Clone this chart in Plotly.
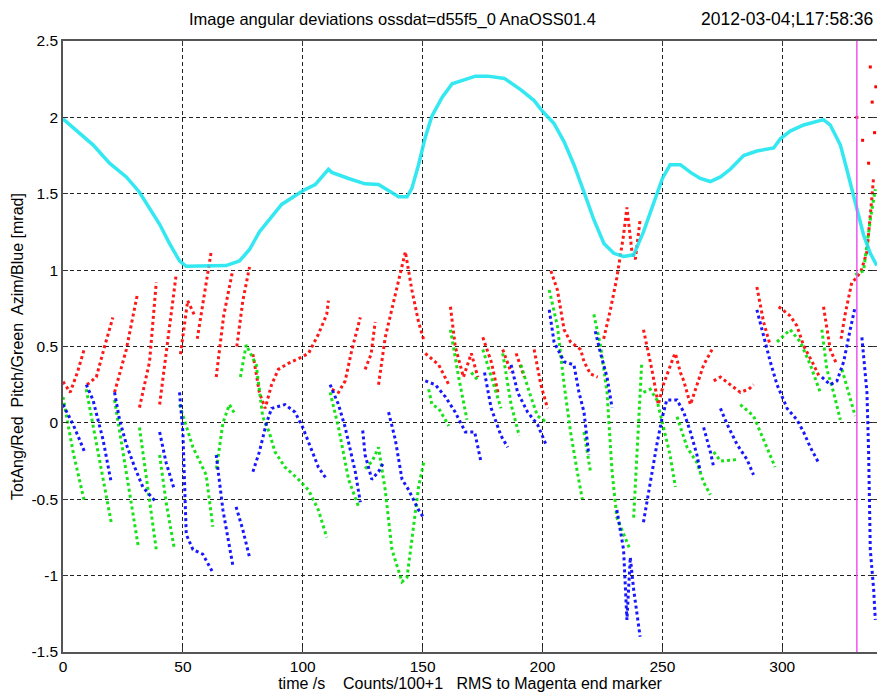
import plotly.graph_objects as go

# ---------------- data ----------------
cyan_x = [0, 6.9, 12.5, 19.4, 26.4, 31.9, 36.1, 40.3, 44.4, 48.6, 51.4, 57, 62.5, 68, 73.6, 77.8, 81.9, 86.1,
          91.2, 100, 105.2, 110.7, 112.1, 119.1, 126, 131.6, 135.8, 140, 143.5, 145.5, 148.3, 151.1, 153.9,
          158.1, 162.3, 167.8, 172, 177.2, 184.1, 191, 196.5, 200, 204.8, 209, 213.1, 217.3, 221.4, 225.6,
          229.7, 233.8, 238, 242.1, 246.3, 250, 253.2, 257.5, 261.7, 265.8, 270, 274.2, 278.3, 283.9, 289.4,
          296.4, 299.2, 303.3, 308.9, 314.4, 317.2, 320, 324.2, 326.9, 329.7, 331.8, 333.9, 336.7, 339.4]
cyan_y = [1.99, 1.895, 1.82, 1.70, 1.61, 1.51, 1.41, 1.30, 1.175, 1.06, 1.025, 1.025, 1.025, 1.03, 1.06, 1.135,
          1.25, 1.33, 1.43, 1.52, 1.56, 1.66, 1.64, 1.60, 1.565, 1.56, 1.52, 1.48, 1.48, 1.535, 1.69, 1.87,
          2.01, 2.13, 2.22, 2.25, 2.27, 2.27, 2.255, 2.18, 2.11, 2.04, 1.96, 1.84, 1.69, 1.51, 1.33, 1.175,
          1.11, 1.09, 1.10, 1.25, 1.43, 1.60, 1.69, 1.69, 1.64, 1.60, 1.58, 1.61, 1.66, 1.75, 1.78, 1.80,
          1.86, 1.91, 1.95, 1.97, 1.985, 1.95, 1.82, 1.66, 1.48, 1.355, 1.23, 1.11, 1.03]

red_x = [0, 3, 6, 9, None, 10, 13.9, 17, 20.8, None, 21.5, 26.4, 31, None, 31.9, 36.1, 38.9, None,
         40.3, 43.5, 47.2, None, 49, 52, 55, None, 56, 59, 61.8, None, 63.9, 67, 70.8, None,
         72.5, 75, 77.8, None, 79.2, 81.9, 84.3, 87, 89.8, 94, 98.2, 102.4, 106.5, 110, 110.7, None,
         112.1, 114.9, 117.7, 120.5, 124, None, 126, 128.5, 130.2, None, 131.6, 134.4, 138.6, 142.8,
         145.5, 148.3, 150.4, None, 151.1, 156.7, 160.9, None, 161.6, 163.6, 167, 170.3, 173, None,
         175.1, 178.6, 181.4, None, 183.4, 186.9, None, 189, 192.4, None, 196.5, 199.3, 202.1, None,
         203.5, 206.2, 209, 211.7, 215.9, 217.3, 220, 223, None, 225.5, 228.3, 231, 233.8, 235.2,
         237.3, 238.7, 240.7, None, 242.1, 245.6, 248.3, 250.4, 254.6, 255.4, 257.5, 258.9, 261.7,
         264.4, 267.2, 270.7, None, 271.4, 274.2, 278.3, 282.5, 286, 288, None, 289.4, 292.2, 295,
         None, 298.5, 303.3, 306.1, 308.9, 313.1, 315.5, None, 317.2, 320, 322.8, None, 324.5,
         326.2, 329, 331, 333, 335.3, 337.4, 338.1]
red_y = [0.27, 0.20, 0.33, 0.49, None, 0.25, 0.30, 0.48, 0.69, None, 0.20, 0.48, 0.84, None, 0.10, 0.40, 0.92, None,
         0.12, 0.50, 0.97, None, 0.45, 0.80, 0.70, None, 0.55, 0.85, 1.12, None, 0.30, 0.70, 1.00, None,
         0.50, 0.80, 1.02, None, 0.45, 0.20, 0.095, 0.25, 0.35, 0.39, 0.42, 0.455, 0.58, 0.71, 0.80, None,
         0.22, 0.20, 0.275, 0.48, 0.69, None, 0.35, 0.45, 0.66, None, 0.25, 0.56, 0.84, 1.12,
         0.87, 0.66, 0.545, None, 0.455, 0.38, 0.25, None, 0.76, 0.50, 0.30, 0.455, 0.30, None,
         0.56, 0.40, 0.20, None, 0.48, 0.33, None, 0.455, 0.30, None, 0.48, 0.25, 0.095, None,
         0.995, 0.87, 0.61, 0.53, 0.48, 0.40, 0.32, 0.30, None, 0.55, 0.74, 0.95, 1.23, 1.41,
         1.12, 1.07, 1.33, None, 0.61, 0.35, 0.12, 0.25, 0.43, 0.455, 0.33, 0.275, 0.12,
         0.25, 0.38, 0.48, None, 0.275, 0.30, 0.25, 0.20, 0.22, 0.25, None, 0.89, 0.66, 0.505,
         None, 0.76, 0.70, 0.635, 0.505, 0.38, 0.30, None, 0.76, 0.48, 0.38, None, 0.55,
         0.71, 0.92, 0.95, 1.00, 1.12, 1.48, 1.61]

# sparse red points after the end marker
red_sparse_x = [331.1, 333.5, 336.7, 337.5, 338.5, 339.0, 336.0]
red_sparse_y = [2.00, 1.85, 2.33, 2.10, 1.90, 2.20, 1.70]

green_x = [0, 4.2, 9, None, 9.7, 13.9, 20.1, None, 21.5, 26.4, 31.3, None, 31.9, 34.7, 38.9, None,
           40.3, 43, 46.5, None, 48.6, 54.2, 59.7, 62.5, None, 64, 66.7, 69.4, 72, None, 74, 76.4,
           80.6, 83.3, 86, 88.4, 92.6, 98.2, 102.4, 106.5, 110, None, 111.4, 114.9, 119.1, 123.3, None,
           126, 129, 131.6, 134.4, 137.2, 141.4, 143.5, 145.5, 148.3, 150.4, None, 152.5, 153.9, 156.7,
           160.9, None, 161.6, 165, 168.5, None, 170.3, 173, None, 175.1, 178.6, 182.7, None, 183.4,
           186.9, 190.3, None, 191, 194.5, 197.9, 202.1, None, 202.8, 206.2, 209, 211.7, 214.5, 216.6,
           None, 217.3, 220, None, 221.4, 224.2, 226.9, 229, 231, 233.8, 236.5, None, 238, 239.4, 241.4,
           None, 242.1, 244.9, 247.7, 250.4, 253.2, 255.4, None, 256.1, 260.3, 264.4, 267.2, 270, None,
           271.4, 274.2, 281.1, None, 282.5, 288, 292.2, 297, None, 297.8, 303.3, 307.5, 311.7, 315.8,
           None, 316.5, 318.6, 321.4, 324.2, None, 324.9, 327.6, 330.4, None, 330.4, 333.9, 336.7, 338.8]
green_y = [0.17, -0.19, -0.52, None, 0.22, -0.14, -0.65, None, 0.15, -0.34, -0.80, None, -0.03, -0.34, -0.83, None,
           -0.21, -0.52, -0.83, None, 0.12, -0.16, -0.34, -0.68, None, -0.30, 0.0, 0.12, 0.05, None, 0.30, 0.51,
           0.38, 0.04, -0.06, -0.19, -0.29, -0.37, -0.44, -0.57, -0.75, None, 0.20, -0.03, -0.37, -0.55, None,
           -0.30, -0.25, -0.16, -0.44, -0.83, -1.04, -1.01, -0.75, -0.42, -0.26, None, 0.22, 0.12, 0.095,
           -0.02, None, 0.61, 0.30, 0.02, None, 0.33, 0.28, None, 0.48, 0.30, 0.095, None, 0.455,
           0.12, -0.085, None, 0.38, 0.20, 0.045, 0.0, None, 0.87, 0.635, 0.25, -0.06, -0.32, -0.50,
           None, -0.06, -0.32, None, 0.71, 0.505, 0.20, -0.32, -0.62, -0.73, -0.83, None, -0.62, -0.19, 0.40,
           None, 0.20, 0.22, 0.15, -0.03, -0.21, -0.42, None, 0.04, -0.16, -0.26, -0.39, -0.47, None,
           -0.19, -0.25, -0.24, None, 0.12, 0.045, -0.11, -0.29, None, 0.53, 0.61, 0.53, 0.38, 0.20,
           None, 0.61, 0.35, 0.20, 0.02, None, 0.35, 0.20, 0.045, None, 0.97, 0.995, 1.33, 1.53]

blue_x = [0, 4.2, 6.9, 9, None, 9.7, 12.5, 16.7, 20.1, None, 21.5, 23.6, 26.4, 29.9, 33.3, 38.9, None,
          40.3, 43, 46.5, None, 48.6, 50, 51.4, 54.2, 58.3, 62.5, None, 63.9, 66.7, 70.8, None, 72.2, 75,
          77.8, None, 79.2, 81.9, 84.7, 87, 92.6, 96.8, 100, 103.8, 106.5, 110, None, 111.4, 114.9, 117.7,
          121.9, 124, None, 125, 126, 128.8, 131.6, 133.7, None, 135.8, 138.6, 141.4, 144.2, 148.3, 150.4,
          None, 151.1, 155.3, 159.5, 163.6, 167.8, 171.7, 174.4, None, 175.8, 178.6, 182.7, 185.5, None,
          186.9, 189.6, 193.8, 197.9, 201.4, None, 202.8, 204.8, 209, 213.1, 215.2, 217.3, 219.3, None,
          222, 224.2, 226.9, 229, None, 231, 233.8, 235.2, 236.6, 238, 240, 240.7, None, 242.1, 244.9,
          247.7, 249.7, 251.8, 256.1, 258.9, 261.7, 264.4, 265.8, None, 267.2, 270, 271.4, None, 274.2,
          277, 281.1, 285.3, 288, None, 289.4, 292.2, 295, 297.8, 302, 306.1, 308.9, 311.7, 315.1, None,
          316.5, 320, 322.8, 325.6, 328.3, 330.4, None, 333.2, 335.3, 336, 336.7, 338.1, 338.8]
blue_y = [0.12, -0.01, -0.11, -0.19, None, 0.25, 0.15, -0.11, -0.39, None, 0.20, 0.02, -0.14, -0.29, -0.42, -0.52, None,
          -0.06, -0.26, -0.44, None, 0.20, -0.06, -0.73, -0.83, -0.86, -0.98, None, -0.21, -0.57, -0.93, None, -0.55, -0.70,
          -0.88, None, -0.32, -0.19, -0.01, 0.095, 0.12, 0.07, -0.03, -0.19, -0.29, -0.37, None, 0.25, 0.12, -0.03,
          -0.32, -0.52, None, -0.05, -0.21, -0.37, -0.32, -0.26, None, 0.07, -0.11, -0.37, -0.44, -0.57, -0.62,
          None, 0.275, 0.25, 0.17, 0.07, -0.06, -0.06, -0.26, None, 0.33, 0.095, -0.085, -0.16, None,
          0.38, 0.20, 0.07, -0.01, -0.14, None, 0.74, 0.53, 0.40, 0.38, 0.20, 0.07, -0.21, None,
          0.60, 0.455, 0.30, 0.10, None, -0.57, -0.83, -1.29, -0.88, -1.09, -1.34, -1.40, None, -0.65, -0.39,
          -0.14, 0.02, 0.15, 0.15, 0.07, -0.06, -0.21, -0.32, None, -0.03, -0.19, -0.29, None, 0.095,
          -0.01, -0.14, -0.24, -0.34, None, 0.74, 0.56, 0.40, 0.25, 0.095, 0.02, -0.06, -0.16, -0.26, None,
          0.30, 0.25, 0.275, 0.40, 0.61, 0.76, None, 0.56, 0.20, -0.19, -0.83, -1.09, -1.29]

marker_time = [331.1]

x_ticks = [0, 50, 100, 150, 200, 250, 300]
y_ticks = [-1.5, -1, -0.5, 0, 0.5, 1, 1.5, 2, 2.5]
y_tick_text = ["-1.5", "-1", "-0.5", "0", "0.5", "1", "1.5", "2", "2.5"]

title_text = "Image angular deviations ossdat=d55f5_0 AnaOSS01.4"
stamp_text = "2012-03-04;L17:58:36"
x_title = "time /s    Counts/100+1   RMS to Magenta end marker"
y_title = "TotAng/Red  Pitch/Green  Azim/Blue [mrad]"

# ---------------- figure ----------------
FONT = "Liberation Sans Narrow, Liberation Sans, Arial, sans-serif"
fig = go.Figure()

def add_series(xs, ys, color, width, dash):
    fig.add_trace(go.Scatter(x=xs, y=ys, mode="lines", connectgaps=False,
                             line=dict(color=color, width=width, dash=dash),
                             opacity=0.9, hoverinfo="skip", showlegend=False))

add_series(red_x, red_y, "#ff0000", 3, "dot")
add_series(green_x, green_y, "#00e000", 3, "dot")
add_series(blue_x, blue_y, "#0000ff", 3, "dot")
add_series(cyan_x, cyan_y, "#1ee6f0", 3.5, "solid")
fig.add_trace(go.Scatter(x=red_sparse_x, y=red_sparse_y, mode="markers",
                         marker=dict(color="#ff0000", size=3, symbol="square"),
                         hoverinfo="skip", showlegend=False))

for t in marker_time:
    fig.add_vline(x=t, line=dict(color="#ee55ee", width=1.5))

axis_common = dict(showline=True, linecolor="#555555", linewidth=1.5, mirror="ticks",
                   ticks="inside", ticklen=5, tickcolor="#333333",
                   showgrid=True, gridcolor="#222222", gridwidth=1, griddash="4px,3px",
                   zeroline=False, automargin=False,
                   tickfont=dict(family=FONT, size=15.5, color="#000000"))

fig.update_xaxes(range=[0, 339.5], tickvals=x_ticks, ticktext=[str(v) for v in x_ticks],
                 title=dict(text=x_title, font=dict(family=FONT, size=16, color="#000"), standoff=0),
                 **axis_common)
fig.update_yaxes(range=[-1.5, 2.5], tickvals=y_ticks, ticktext=y_tick_text,
                 title=dict(text=y_title, font=dict(family=FONT, size=16, color="#000"), standoff=4),
                 **axis_common)

fig.add_annotation(text=title_text, xref="paper", yref="paper", x=0.405, y=1.0, yshift=22,
                   xanchor="center", yanchor="middle", showarrow=False,
                   font=dict(family=FONT, size=16.5, color="#000"))
fig.add_annotation(text=stamp_text, xref="paper", yref="paper", x=1.0, y=1.0, yshift=22, xshift=-2,
                   xanchor="right", yanchor="middle", showarrow=False,
                   font=dict(family=FONT, size=17.5, color="#000"))

fig.update_layout(width=877, height=693, margin=dict(l=63, r=0, t=41, b=41),
                  plot_bgcolor="white", paper_bgcolor="white")

# remove the default page margin and scrollbars so the figure fills the window exactly
fig.write_html("out.html", config={"displayModeBar": False},
               post_script="document.body.style.margin='0';document.body.style.overflow='hidden';")
